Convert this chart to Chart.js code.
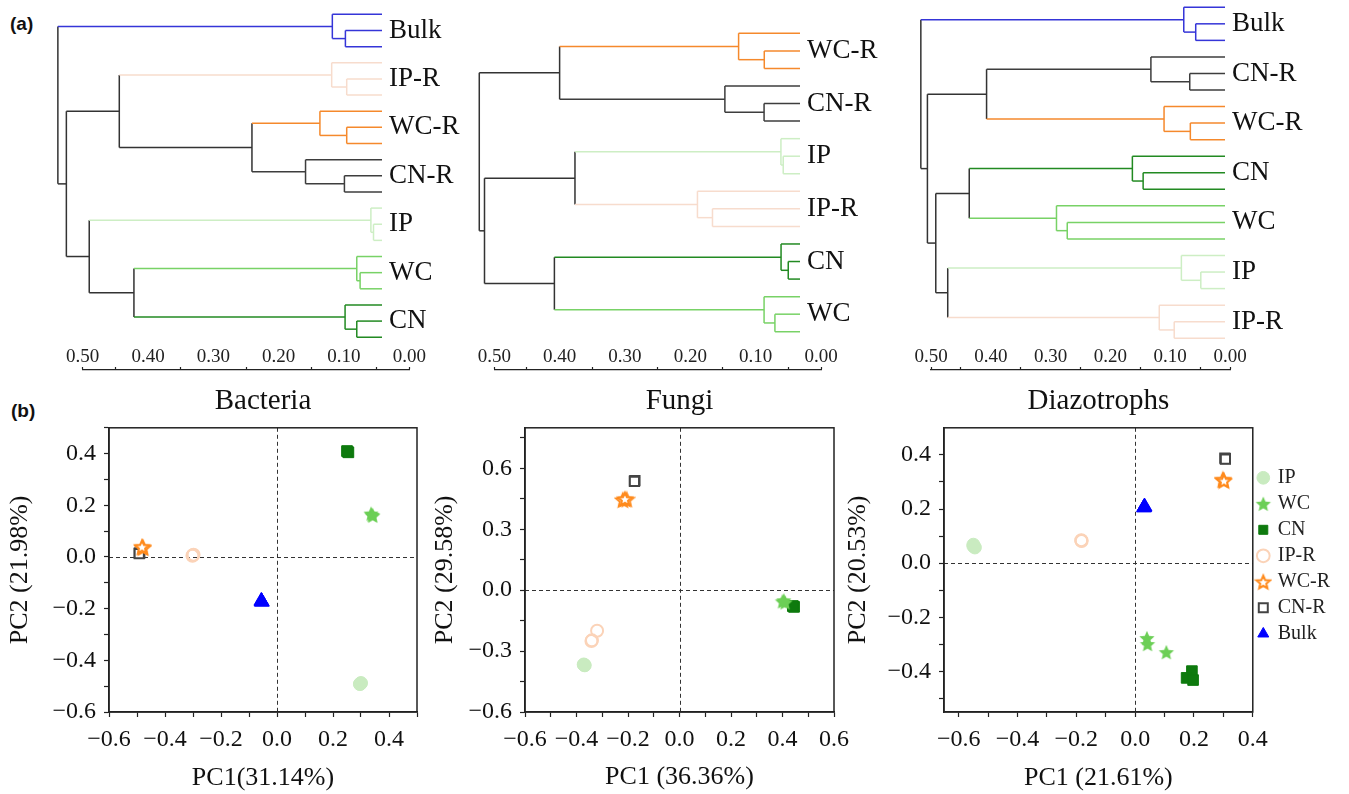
<!DOCTYPE html>
<html>
<head>
<meta charset="utf-8">
<script src="https://cdn.jsdelivr.net/npm/chart.js@4.4.0/dist/chart.umd.min.js"></script>
<style>
body{margin:0;background:#fff;width:1349px;height:794px;position:relative;overflow:hidden;}
.box{position:absolute;}
.tag{position:absolute;font:bold 19px "Liberation Sans",Arial,sans-serif;color:#111;}
</style>
</head>
<body>
<div class="tag" style="left:10px;top:13px">(a)</div>
<div class="tag" style="left:11px;top:400px">(b)</div>
<div class="box" style="left:0px;top:0px;width:472px;height:370px"><canvas id="t1"></canvas></div>
<div class="box" style="left:460px;top:0px;width:430px;height:370px"><canvas id="t2"></canvas></div>
<div class="box" style="left:900px;top:0px;width:415px;height:370px"><canvas id="t3"></canvas></div>
<div class="box" style="left:0px;top:330px;width:430px;height:42px"><canvas id="a1"></canvas></div>
<div class="box" style="left:460px;top:330px;width:400px;height:42px"><canvas id="a2"></canvas></div>
<div class="box" style="left:900px;top:330px;width:400px;height:42px"><canvas id="a3"></canvas></div>
<div class="box" style="left:0px;top:380px;width:440px;height:414px"><canvas id="p1"></canvas></div>
<div class="box" style="left:425px;top:380px;width:440px;height:414px"><canvas id="p2"></canvas></div>
<div class="box" style="left:838px;top:380px;width:511px;height:414px"><canvas id="p3"></canvas></div>
<script>
const dendroTicks = [0, 0.05, 0.1, 0.15, 0.2, 0.25, 0.3, 0.35, 0.4, 0.45, 0.5];

const bacOrder = ['Bulk', 'IP-R', 'WC-R', 'CN-R', 'IP', 'WC', 'CN'];
const bacSubH = [0.098, 0.096, 0.096, 0.0995, 0.055, 0.0755, 0.0806];
const bacGrpH = [0.118, 0.119, 0.137, 0.159, 0.059, 0.0806, 0.0985];
const bacTree = ['Bulk', [['IP-R', ['WC-R', 'CN-R', 0.241], 0.444], ['IP', ['WC', 'CN', 0.4216], 0.49], 0.525], 0.538];

const funOrder = ['WC-R', 'CN-R', 'IP', 'IP-R', 'CN', 'WC'];
const funSubH = [0.0867, 0.087, 0.0577, 0.166, 0.05, 0.0704];
const funGrpH = [0.126, 0.147, 0.0612, 0.189, 0.061, 0.087];
const funTree = [['WC-R', 'CN-R', 0.40], [['IP', 'IP-R', 0.3765], ['CN', 'WC', 0.408], 0.515], 0.523];

const diaOrder = ['Bulk', 'CN-R', 'WC-R', 'CN', 'WC', 'IP', 'IP-R'];
const diaSubH = [0.057, 0.067, 0.066, 0.145, 0.272, 0.0485, 0.093];
const diaGrpH = [0.077, 0.132, 0.11, 0.163, 0.29, 0.081, 0.118];
const diaTree = ['Bulk', [['CN-R', 'WC-R', 0.407], [['CN', 'WC', 0.436], ['IP', 'IP-R', 0.472], 0.492], 0.506], 0.517];

// ---- PCA data ----
const groups = ['IP', 'WC', 'CN', 'IP-R', 'WC-R', 'CN-R', 'Bulk'];

const bacPC1 = [[0.298, 0.300, 0.296], [0.340, 0.336, 0.342], [0.252, 0.255, 0.250], [-0.300, -0.298, -0.302], [-0.480, -0.478, -0.482], [-0.492, -0.490, -0.492], [-0.055, -0.054, -0.056]];
const bacPC2 = [[-0.490, -0.488, -0.492], [0.163, 0.168, 0.160], [0.408, 0.405, 0.410], [0.007, 0.009, 0.005], [0.038, 0.036, 0.040], [0.015, 0.015, 0.013], [-0.172, -0.174, -0.170]];

const funPC1 = [[-0.370, -0.372, -0.368], [0.405, 0.410, 0.400], [0.442, 0.445, 0.440], [-0.320, -0.340, -0.342], [-0.220, -0.205, -0.212], [-0.175, -0.173, -0.175], []];
const funPC2 = [[-0.368, -0.366, -0.370], [-0.050, -0.060, -0.055], [-0.080, -0.082, -0.078], [-0.200, -0.247, -0.250], [0.445, 0.448, 0.450], [0.538, 0.540, 0.536], []];

const diaPC1 = [[-0.550, -0.545, -0.550], [0.040, 0.042, 0.106], [0.193, 0.175, 0.197], [-0.183, -0.183, -0.182], [0.300, 0.298, 0.302], [0.307, 0.305, 0.307], [0.031, 0.030, 0.032]];
const diaPC2 = [[0.068, 0.058, 0.063], [-0.277, -0.299, -0.329], [-0.399, -0.424, -0.432], [0.083, 0.085, 0.082], [0.307, 0.309, 0.305], [0.386, 0.388, 0.384], [0.207, 0.205, 0.209]];

// axis ticks (all tick marks) and labelled ticks
const bacXTicks = [-0.6, -0.5, -0.4, -0.3, -0.2, -0.1, 0, 0.1, 0.2, 0.3, 0.4, 0.5];
const bacXLabels = [-0.6, -0.4, -0.2, 0, 0.2, 0.4];
const bacYTicks = [-0.6, -0.5, -0.4, -0.3, -0.2, -0.1, 0, 0.1, 0.2, 0.3, 0.4, 0.5];
const bacYLabels = [-0.6, -0.4, -0.2, 0, 0.2, 0.4];

const funXTicks = [-0.6, -0.5, -0.4, -0.3, -0.2, -0.1, 0, 0.1, 0.2, 0.3, 0.4, 0.5, 0.6];
const funXLabels = [-0.6, -0.4, -0.2, 0, 0.2, 0.4, 0.6];
const funYTicks = [-0.6, -0.45, -0.3, -0.15, 0, 0.15, 0.3, 0.45, 0.6, 0.75];
const funYLabels = [-0.6, -0.3, 0, 0.3, 0.6];

const diaXTicks = [-0.6, -0.5, -0.4, -0.3, -0.2, -0.1, 0, 0.1, 0.2, 0.3, 0.4];
const diaXLabels = [-0.6, -0.4, -0.2, 0, 0.2, 0.4];
const diaYTicks = [-0.5, -0.4, -0.3, -0.2, -0.1, 0, 0.1, 0.2, 0.3, 0.4];
const diaYLabels = [-0.4, -0.2, 0, 0.2, 0.4];

// ---- styles ----
const SERIF = '"Liberation Serif","Times New Roman",serif';
const INNER = '#333333';
const lineColors = {'Bulk': '#3535d8', 'IP-R': '#f7dccd', 'WC-R': '#f5892c', 'CN-R': '#3d3d3d',
                    'IP': '#cdeec4', 'WC': '#78d266', 'CN': '#228a22'};

function starImg(size, fill, stroke, lw) {
    const c = document.createElement('canvas');
    c.width = size; c.height = size;
    const g = c.getContext('2d');
    const cx = size / 2, cy = size / 2 + 0.8, R = size / 2 - lw, r = R * 0.46;
    g.beginPath();
    for (let i = 0; i < 10; i++) {
        const a = -Math.PI / 2 + i * Math.PI / 5;
        const rr = i % 2 ? r : R;
        g.lineTo(cx + rr * Math.cos(a), cy + rr * Math.sin(a));
    }
    g.closePath();
    g.fillStyle = fill; g.fill();
    if (stroke) { g.strokeStyle = stroke; g.lineWidth = lw; g.stroke(); }
    return c;
}

const markers = {
    'IP':   {pointStyle: 'circle', radius: 6.5, bg: '#c9ebc0', bd: '#c9ebc0', bw: 1},
    'WC':   {pointStyle: starImg(18, '#6ccf56', null, 1), radius: 8, bg: '#6ccf56', bd: '#6ccf56', bw: 1},
    'CN':   {pointStyle: 'rect', radius: 7.5, bg: '#0e7a0e', bd: '#0e7a0e', bw: 1},
    'IP-R': {pointStyle: 'circle', radius: 6, bg: 'rgba(255,255,255,0)', bd: '#fbd3b8', bw: 2},
    'WC-R': {pointStyle: starImg(18, '#ffffff', '#ff8a1c', 2), radius: 8, bg: '#ffffff', bd: '#ff8a1c', bw: 2},
    'CN-R': {pointStyle: 'rect', radius: 6.5, bg: '#ffffff', bd: '#444444', bw: 2},
    'Bulk': {pointStyle: 'triangle', radius: 8.5, bg: '#0000ff', bd: '#0000ff', bw: 1}
};

function fmt(v) {
    const s = Math.abs(v).toFixed(1);
    return v < -1e-9 ? '\u2212' + s : s;
}

// ---- dendrogram ----
function buildTree(order, subH, grpH, tree, tip) {
    const segs = [];
    const info = {};
    order.forEach((g, i) => {
        const y0 = i * 3, s = subH[i], h = grpH[i], c = lineColors[g];
        segs.push([tip, y0, h, y0, c]);
        segs.push([tip, y0 + 1, s, y0 + 1, c]);
        segs.push([tip, y0 + 2, s, y0 + 2, c]);
        segs.push([s, y0 + 1, s, y0 + 2, c]);
        segs.push([s, y0 + 1.5, h, y0 + 1.5, c]);
        segs.push([h, y0, h, y0 + 1.5, c]);
        info[g] = {x: h, y: y0 + 0.75, c: c};
    });
    function walk(n) {
        if (typeof n === 'string') return info[n];
        const a = walk(n[0]), b = walk(n[1]), h = n[2];
        segs.push([a.x, a.y, h, a.y, a.c]);
        segs.push([b.x, b.y, h, b.y, b.c]);
        segs.push([h, a.y, h, b.y, INNER]);
        return {x: h, y: (a.y + b.y) / 2, c: INNER};
    }
    walk(tree);
    return segs;
}

// tree: x runs from the leaf tips (right edge) to 0.5 (left edge), reversed
function treeChart(id, order, subH, grpH, tree, tip, yMin, yMax, padL) {
    const segs = buildTree(order, subH, grpH, tree, tip);
    new Chart(document.getElementById(id), {
        type: 'scatter',
        data: {
            datasets: segs.map(s => ({
                data: [{x: s[0], y: s[1]}, {x: s[2], y: s[3]}],
                showLine: true, borderColor: s[4], borderWidth: 1.5,
                pointRadius: 0, clip: false
            }))
        },
        options: {
            responsive: true, maintainAspectRatio: false, animation: false, events: [],
            layout: {padding: {left: padL, right: 0, top: 0, bottom: 0}},
            plugins: {legend: {display: false}, tooltip: {enabled: false}},
            scales: {
                x: {type: 'linear', display: false, reverse: true, min: tip, max: 0.5},
                y: {
                    type: 'linear', position: 'right', reverse: true, min: yMin, max: yMax,
                    afterBuildTicks: s => { s.ticks = order.map((g, i) => ({value: i * 3 + 1})); },
                    afterFit: s => { s.width = 90; s.paddingTop = 0; s.paddingBottom = 0; },
                    ticks: {
                        autoSkip: false, padding: 7, color: '#111',
                        font: {family: SERIF, size: 27},
                        callback: v => order[Math.round((v - 1) / 3)]
                    },
                    grid: {display: false, drawTicks: false},
                    border: {display: false}
                }
            }
        }
    });
}

// distance scale under each tree (labels above the line, ticks pointing up)
function scaleChart(id, padL, padR) {
    new Chart(document.getElementById(id), {
        type: 'scatter',
        data: {datasets: []},
        options: {
            responsive: true, maintainAspectRatio: false, animation: false, events: [],
            layout: {padding: {left: padL, right: padR, top: 0, bottom: 0}},
            plugins: {legend: {display: false}, tooltip: {enabled: false}},
            scales: {
                x: {
                    type: 'linear', position: 'top', reverse: true, min: 0, max: 0.5,
                    afterBuildTicks: s => { s.ticks = dendroTicks.map(v => ({value: v})); },
                    afterFit: s => { s.height = 40; },
                    ticks: {
                        autoSkip: false, maxRotation: 0, padding: -1, color: '#222',
                        font: {family: SERIF, size: 19},
                        callback: v => Math.round(v * 100) % 10 === 0 ? v.toFixed(2) : ''
                    },
                    grid: {
                        drawOnChartArea: false, drawTicks: true, tickLength: 3, tickWidth: 1.2,
                        tickColor: c => {
                            const k = Math.round(c.tick.value * 100);
                            return (k % 10 !== 0 || k === 0 || k === 50) ? '#222' : 'rgba(0,0,0,0)';
                        }
                    },
                    border: {display: true, color: '#222', width: 1.3}
                },
                y: {display: false, min: 0, max: 1}
            }
        }
    });
}

treeChart('t1', bacOrder, bacSubH, bacGrpH, bacTree, 0.042, -0.89, 22.03, 82.7);
treeChart('t2', funOrder, funSubH, funGrpH, funTree, 0.032, -1.9, 19.18, 34.3);
treeChart('t3', diaOrder, diaSubH, diaGrpH, diaTree, 0.008, -0.44, 21.92, 31);
scaleChart('a1', 82.7, 20.7);
scaleChart('a2', 34.3, 39);
scaleChart('a3', 31, 70);

// ---- PCA plots ----
const framePlugin = {
    id: 'frame',
    beforeDatasetsDraw(chart) {
        const {ctx, chartArea: a} = chart;
        const px = Math.round(chart.scales.x.getPixelForValue(0)) + 0.5;
        const py = Math.round(chart.scales.y.getPixelForValue(0)) + 0.5;
        ctx.save();
        ctx.strokeStyle = '#333'; ctx.lineWidth = 1; ctx.setLineDash([4, 3]);
        ctx.beginPath();
        ctx.moveTo(px, a.top); ctx.lineTo(px, a.bottom);
        ctx.moveTo(a.left, py); ctx.lineTo(a.right, py);
        ctx.stroke();
        ctx.setLineDash([]);
        ctx.lineWidth = 1.5; ctx.strokeStyle = '#222';
        ctx.strokeRect(a.left, a.top, a.right - a.left, a.bottom - a.top);
        ctx.restore();
    }
};

function pcaAxis(pos, min, max, ticks, labels, size, titleText, titlePad) {
    return {
        type: 'linear', position: pos, min: min, max: max,
        afterBuildTicks: s => { s.ticks = ticks.map(v => ({value: v})); },
        afterFit: s => { if (pos === 'left') s.width = size; else s.height = size; },
        ticks: {
            autoSkip: false, maxRotation: 0, padding: 8, color: '#111',
            font: {family: SERIF, size: 24},
            callback: v => labels.some(l => Math.abs(l - v) < 1e-6) ? fmt(v) : ''
        },
        grid: {drawOnChartArea: false, drawTicks: true, tickLength: 5, tickColor: '#222', tickWidth: 1.2},
        border: {display: true, color: '#222', width: 1.5},
        title: {
            display: true, text: titleText, color: '#111',
            font: {family: SERIF, size: 26}, padding: titlePad
        }
    };
}

function pcaChart(id, title, pc1, pc2, xr, xt, xl, yr, yt, yl, xTitle, yTitle, yW, padR, xTitlePad, showLegend) {
    const datasets = [];
    groups.forEach((g, i) => {
        if (!pc1[i].length) return;
        const m = markers[g];
        datasets.push({
            label: g,
            data: pc1[i].map((x, j) => ({x: x, y: pc2[i][j]})),
            pointStyle: m.pointStyle, pointRadius: m.radius,
            backgroundColor: m.bg, borderColor: m.bd, borderWidth: m.bw
        });
    });
    new Chart(document.getElementById(id), {
        type: 'scatter',
        data: {datasets: datasets},
        plugins: [framePlugin],
        options: {
            responsive: true, maintainAspectRatio: false, animation: false, events: [],
            layout: {padding: {left: 0, right: padR, top: 0, bottom: 0}},
            plugins: {
                tooltip: {enabled: false},
                title: {
                    display: true, text: title, color: '#111', fullSize: false,
                    font: {family: SERIF, size: 29, weight: 'normal'},
                    padding: {top: 4, bottom: 9}
                },
                legend: {
                    display: showLegend, position: 'right', align: 'start', fullSize: false,
                    title: {display: true, text: ' ', padding: {top: 5, bottom: 5}, font: {family: SERIF, size: 20}},
                    labels: {
                        usePointStyle: true, boxWidth: 9, boxHeight: 9, padding: 6,
                        color: '#222', font: {family: SERIF, size: 20}
                    }
                }
            },
            scales: {
                x: pcaAxis('bottom', xr[0], xr[1], xt, xl, 82, xTitle, {top: 0, bottom: xTitlePad}),
                y: pcaAxis('left', yr[0], yr[1], yt, yl, yW, yTitle, {top: 4.4, bottom: 0})
            }
        }
    });
}

pcaChart('p1', 'Bacteria', bacPC1, bacPC2, [-0.6, 0.5], bacXTicks, bacXLabels, [-0.6, 0.5], bacYTicks, bacYLabels,
         'PC1(31.14%)', 'PC2 (21.98%)', 109, 23, 0, false);
pcaChart('p2', 'Fungi', funPC1, funPC2, [-0.6, 0.6], funXTicks, funXLabels, [-0.6, 0.8], funYTicks, funYLabels,
         'PC1 (36.36%)', 'PC2 (29.58%)', 100, 31, 1.4, false);
pcaChart('p3', 'Diazotrophs', diaPC1, diaPC2, [-0.65, 0.4], diaXTicks, diaXLabels, [-0.55, 0.5], diaYTicks, diaYLabels,
         'PC1 (21.61%)', 'PC2 (20.53%)', 106, 9, 0, true);
</script>
</body>
</html>
